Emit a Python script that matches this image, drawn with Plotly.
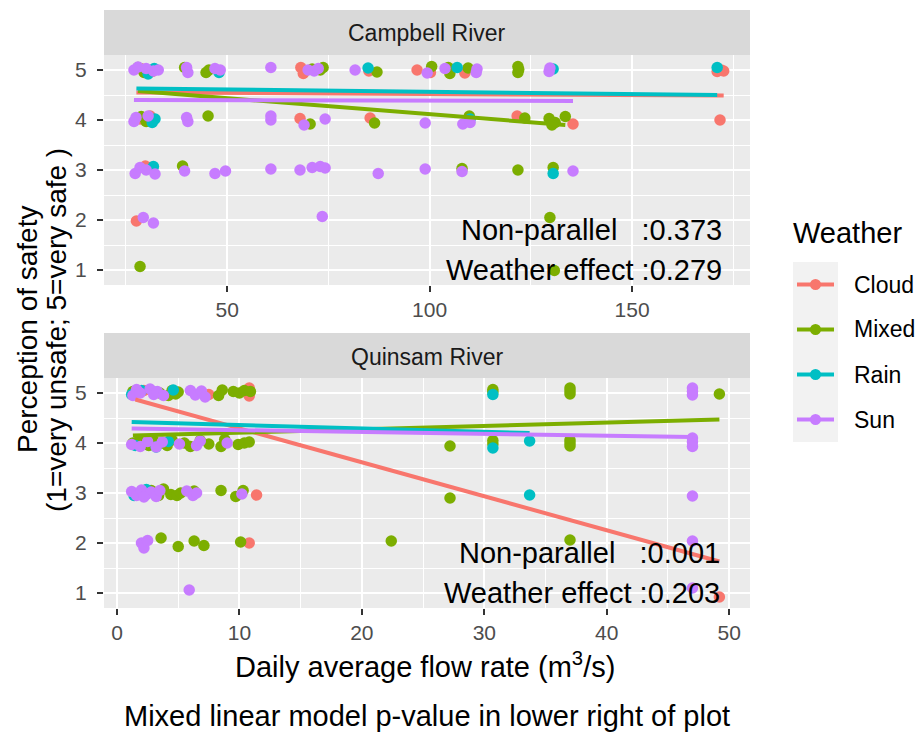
import plotly.graph_objects as go

# ---------------------------------------------------------------------------
# Data: perception of safety (1-5, jittered) vs daily average flow rate
# ---------------------------------------------------------------------------
weather = ["Cloud", "Mixed", "Rain", "Sun"]
weather_colors = ["#F8766D", "#7CAE00", "#00BFC4", "#C77CFF"]

# Campbell River
campbell_cloud_x = [29.0, 31.5, 68.2, 68.8, 85.0, 96.9, 100.2, 108.7, 171.0, 172.0, 172.6,
                    28.5, 31.0, 68.0, 85.3, 121.6, 135.4, 171.7, 31.0, 29.8, 27.6]
campbell_cloud_y = [5.02, 4.97, 5.05, 4.93, 4.98, 5.00, 4.95, 4.94, 4.97, 5.00, 4.98,
                    4.02, 4.08, 4.03, 4.04, 4.08, 3.92, 4.00, 3.05, 3.08, 1.98]

campbell_mixed_x = [28.0, 29.5, 39.5, 44.8, 45.5, 71.0, 73.0, 73.7, 87.0, 100.5, 104.6, 105.0,
                    109.5, 121.8, 121.8, 122.0, 28.8, 30.0, 45.3, 70.5, 86.4, 109.8, 123.5,
                    129.5, 131.0, 133.5, 130.2, 39.0, 108.0, 121.8, 130.5, 129.7, 28.5, 130.8]
campbell_mixed_y = [5.05, 4.95, 5.05, 4.95, 5.00, 5.02, 5.00, 5.05, 4.96, 5.07, 5.05, 4.93,
                    5.04, 5.07, 4.95, 5.01, 4.07, 3.97, 4.08, 3.92, 3.94, 4.08, 4.04,
                    4.03, 3.95, 4.07, 3.90, 3.08, 3.03, 3.00, 3.05, 2.05, 1.07, 0.99]

campbell_rain_x = [30.5, 32.0, 48.0, 84.8, 106.8, 130.5, 171.0, 31.5, 32.2, 110.0, 31.8, 130.5]
campbell_rain_y = [4.92, 5.03, 4.95, 5.04, 5.05, 5.02, 5.05, 3.95, 4.02, 4.02, 3.07, 2.93]

campbell_sun_x = [27.0, 28.0, 30.0, 31.8, 33.0, 40.3, 40.0, 47.0, 48.3, 60.8, 70.0, 71.5, 72.5,
                  81.6, 99.4, 103.8, 111.7, 111.5, 129.7, 129.5,
                  27.0, 27.5, 30.5, 40.3, 40.0, 60.8, 60.8, 69.0, 74.2, 98.9, 108.2, 110.0,
                  27.3, 28.5, 30.0, 32.2, 39.5, 47.0, 49.6, 60.8, 68.0, 71.0, 73.0, 74.2,
                  87.3, 98.9, 108.0, 135.4, 29.3, 31.8, 73.5]
campbell_sun_y = [5.00, 5.06, 5.03, 4.98, 5.00, 4.95, 5.05, 5.03, 5.00, 5.05, 5.00, 4.98, 5.03,
                  5.00, 4.94, 5.03, 5.02, 4.95, 5.04, 4.97,
                  3.97, 4.05, 4.08, 3.97, 4.05, 4.08, 4.00, 3.90, 4.02, 3.94, 3.92, 3.95,
                  2.93, 3.05, 3.00, 2.92, 2.98, 2.93, 2.98, 3.02, 3.00, 3.05, 3.07, 3.04,
                  2.93, 3.02, 2.97, 2.98, 2.05, 1.94, 2.07]

# Quinsam River
quinsam_cloud_x = [2.2, 7.5, 10.8, 10.8, 11.4, 10.8, 49.2]
quinsam_cloud_y = [5.05, 4.97, 5.10, 4.94, 2.96, 2.00, 0.92]

quinsam_mixed_x = [1.3, 3.5, 4.2, 4.5, 4.8, 5.0, 8.3, 8.6, 9.5, 10.0, 10.4, 10.9, 30.7, 30.7,
                   37.0, 37.0, 37.0, 49.2,
                   1.3, 1.8, 2.6, 3.0, 3.6, 4.1, 4.5, 5.5, 6.0, 6.8, 7.5, 8.5, 8.8, 9.9, 10.4,
                   10.8, 27.2, 30.7, 30.7, 37.0, 37.0, 37.0,
                   2.8, 3.4, 3.8, 4.4, 4.9, 5.2, 6.3, 8.5, 9.7, 10.3, 27.2,
                   3.6, 5.0, 6.3, 7.1, 10.1, 22.4, 37.0]
quinsam_mixed_y = [5.03, 5.00, 4.95, 5.05, 4.98, 5.02, 4.95, 5.06, 5.03, 5.00, 5.05, 5.03, 5.07, 5.02,
                   5.10, 5.04, 4.98, 4.98,
                   4.00, 4.05, 3.95, 4.05, 4.00, 3.95, 4.06, 4.00, 3.93, 4.05, 3.98, 3.93, 4.07, 3.97, 4.00,
                   4.02, 3.94, 3.98, 4.05, 4.06, 3.94, 4.00,
                   3.05, 2.95, 3.08, 2.97, 2.95, 3.00, 3.04, 3.05, 2.93, 3.05, 2.90,
                   2.10, 1.93, 2.04, 1.95, 2.02, 2.04, 2.06]

quinsam_rain_x = [1.2, 2.0, 3.0, 4.6, 30.7, 1.5, 3.2, 4.2, 30.7, 33.7, 1.4, 2.4, 33.7]
quinsam_rain_y = [4.97, 5.05, 5.02, 5.06, 4.97, 3.95, 3.92, 4.03, 3.90, 4.04, 2.95, 3.07, 2.96]

quinsam_sun_x = [1.3, 1.6, 1.9, 2.7, 3.0, 3.3, 3.8, 6.0, 6.4, 6.9, 7.2, 47.0, 47.0, 47.0,
                 1.2, 1.9, 2.5, 3.2, 3.7, 5.1, 6.5, 6.8, 9.0, 47.0, 47.0, 47.0,
                 1.2, 1.6, 2.0, 2.4, 2.8, 3.2, 3.5, 2.2, 5.7, 6.2, 6.5, 10.2, 47.0,
                 2.0, 2.2, 2.5, 47.0, 5.9, 47.0]
quinsam_sun_y = [4.95, 5.07, 5.00, 5.08, 4.97, 5.03, 4.95, 5.05, 4.96, 5.04, 4.92, 5.10, 5.03, 4.96,
                 3.97, 3.93, 4.03, 3.92, 4.02, 3.98, 3.95, 4.04, 4.00, 4.10, 4.02, 3.93,
                 3.03, 2.95, 3.06, 2.97, 3.02, 2.93, 3.05, 2.92, 3.04, 2.95, 3.00, 2.98, 2.94,
                 2.00, 1.90, 2.05, 2.04, 1.06, 1.10]

# Fitted linear trends (end points of each weather group's fit)
campbell_fit_x = [[27.6, 172.6], [28.0, 133.5], [27.6, 171.0], [27.0, 135.4]]
campbell_fit_y = [[4.55, 4.49], [4.58, 3.90], [4.63, 4.50], [4.40, 4.38]]
quinsam_fit_x = [[1.5, 49.2], [1.3, 49.2], [1.2, 33.7], [1.2, 47.0]]
quinsam_fit_y = [[4.87, 1.63], [4.15, 4.47], [4.42, 4.20], [4.29, 4.12]]

# Mixed linear model p-values
campbell_pvals = ["0.373", "0.279"]
quinsam_pvals = ["0.001", "0.203"]

panel_titles = ["Campbell River", "Quinsam River"]

# ---------------------------------------------------------------------------
W, H = 915, 734
FONT = "Liberation Sans, Arial, Helvetica, sans-serif"
PANEL_BG = "#EBEBEB"
STRIP_BG = "#D9D9D9"
KEY_BG = "#F2F2F2"

def px_x(p):
    return p / W

def px_y(p):
    return 1 - p / H

panel_left, panel_right = 104, 750
top_panel = (55, 285)      # pixel rows of the Campbell panel
bot_panel = (378, 608)     # pixel rows of the Quinsam panel
strip_h = 45

fig = go.Figure()

campbell_pts = [(campbell_cloud_x, campbell_cloud_y), (campbell_mixed_x, campbell_mixed_y),
                (campbell_rain_x, campbell_rain_y), (campbell_sun_x, campbell_sun_y)]
quinsam_pts = [(quinsam_cloud_x, quinsam_cloud_y), (quinsam_mixed_x, quinsam_mixed_y),
               (quinsam_rain_x, quinsam_rain_y), (quinsam_sun_x, quinsam_sun_y)]

for pts, fx, fy, xa, ya in [(campbell_pts, campbell_fit_x, campbell_fit_y, "x", "y"),
                            (quinsam_pts, quinsam_fit_x, quinsam_fit_y, "x2", "y2")]:
    for (xs, ys), name, col in zip(pts, weather, weather_colors):
        fig.add_trace(go.Scatter(x=xs, y=ys, mode="markers", name=name, showlegend=False,
                                 marker=dict(color=col, size=11.5, line=dict(width=0)),
                                 xaxis=xa, yaxis=ya))
    for lx, ly, name, col in zip(fx, fy, weather, weather_colors):
        fig.add_trace(go.Scatter(x=lx, y=ly, mode="lines", name=name, showlegend=False,
                                 line=dict(color=col, width=4),
                                 xaxis=xa, yaxis=ya))

dom_x = [px_x(panel_left), px_x(panel_right)]
common_axis = dict(showline=False, zeroline=False, ticks="outside", ticklen=6, tickwidth=2,
                   tickcolor="#333333", gridcolor="white", gridwidth=2,
                   tickfont=dict(family=FONT, size=21, color="#4D4D4D"))
minor_grid = dict(showgrid=True, gridcolor="white", gridwidth=1, ticks="")

fig.update_layout(
    xaxis=dict(domain=dom_x, anchor="y", range=[19.6, 179.1], tick0=0, dtick=50,
               minor=dict(dtick=25, **minor_grid), **common_axis),
    yaxis=dict(domain=[px_y(top_panel[1]), px_y(top_panel[0])], anchor="x", range=[0.7, 5.3],
               dtick=1, minor=dict(dtick=0.5, **minor_grid), ticklabelstandoff=6, **common_axis),
    xaxis2=dict(domain=dom_x, anchor="y2", range=[-1.06, 51.7], tick0=0, dtick=10,
                minor=dict(dtick=5, **minor_grid), **common_axis),
    yaxis2=dict(domain=[px_y(bot_panel[1]), px_y(bot_panel[0])], anchor="x2", range=[0.7, 5.3],
                dtick=1, minor=dict(dtick=0.5, **minor_grid), ticklabelstandoff=6, **common_axis),
    plot_bgcolor=PANEL_BG,
    paper_bgcolor="white",
    width=W, height=H,
    margin=dict(l=0, r=0, t=0, b=0),
    showlegend=False,
    font=dict(family=FONT, color="black"),
)

shapes = []
annotations = []

# Facet strips
for (top, _), title in zip([top_panel, bot_panel], panel_titles):
    shapes.append(dict(type="rect", xref="paper", yref="paper",
                       x0=px_x(panel_left), x1=px_x(panel_right),
                       y0=px_y(top), y1=px_y(top - strip_h),
                       fillcolor=STRIP_BG, line=dict(width=0), layer="below"))
    annotations.append(dict(text=title, xref="paper", yref="paper",
                            x=px_x((panel_left + panel_right) / 2), y=px_y(top - strip_h / 2 + 1),
                            xanchor="center", yanchor="middle", showarrow=False,
                            font=dict(family=FONT, size=23, color="#1A1A1A")))

# p-value labels in lower right of each panel
NB = "\u00a0"
for pv, xmax, xa, ya in [(campbell_pvals, 172.6, "x", "y"), (quinsam_pvals, 49.4, "x2", "y2")]:
    labels = ["Non-parallel" + NB * 3 + ":" + pv[0], "Weather" + NB + "effect" + NB + ":" + pv[1]]
    for lab, yv in zip(labels, [1.8, 1.0]):
        annotations.append(dict(text=lab, xref=xa, yref=ya, x=xmax, y=yv,
                                xanchor="right", yanchor="middle", showarrow=False,
                                font=dict(family=FONT, size=29, color="black")))

# Axis titles and caption
annotations.append(dict(text="Perception of safety", xref="paper", yref="paper",
                        x=px_x(27), y=px_y(330), xanchor="center", yanchor="middle",
                        textangle=-90, showarrow=False, font=dict(family=FONT, size=28)))
annotations.append(dict(text="(1=very unsafe; 5=very safe )", xref="paper", yref="paper",
                        x=px_x(56), y=px_y(330), xanchor="center", yanchor="middle",
                        textangle=-90, showarrow=False, font=dict(family=FONT, size=28)))
annotations.append(dict(text="Daily average flow rate (m<sup>3</sup>/s)", xref="paper", yref="paper",
                        x=px_x(425), y=px_y(665), xanchor="center", yanchor="middle",
                        showarrow=False, font=dict(family=FONT, size=29)))
annotations.append(dict(text="Mixed linear model p-value in lower right of plot",
                        xref="paper", yref="paper", x=px_x(427), y=px_y(716),
                        xanchor="center", yanchor="middle", showarrow=False,
                        font=dict(family=FONT, size=29)))

# Legend
annotations.append(dict(text="Weather", xref="paper", yref="paper", x=px_x(791), y=px_y(233),
                        xanchor="left", yanchor="middle", showarrow=False,
                        font=dict(family=FONT, size=29)))
key_top, key_size = 262, 45
key_left = 793
for i, (name, col) in enumerate(zip(weather, weather_colors)):
    y0 = key_top + i * key_size
    yc = y0 + key_size / 2
    shapes.append(dict(type="rect", xref="paper", yref="paper",
                       x0=px_x(key_left), x1=px_x(key_left + key_size),
                       y0=px_y(y0 + key_size), y1=px_y(y0),
                       fillcolor=KEY_BG, line=dict(width=0)))
    shapes.append(dict(type="line", xref="paper", yref="paper",
                       x0=px_x(key_left + 4), x1=px_x(key_left + key_size - 4),
                       y0=px_y(yc), y1=px_y(yc), line=dict(color=col, width=4)))
    shapes.append(dict(type="circle", xref="paper", yref="paper",
                       x0=px_x(key_left + key_size / 2 - 5.5), x1=px_x(key_left + key_size / 2 + 5.5),
                       y0=px_y(yc + 5.5), y1=px_y(yc - 5.5),
                       fillcolor=col, line=dict(width=0)))
    annotations.append(dict(text=name, xref="paper", yref="paper",
                            x=px_x(852), y=px_y(yc), xanchor="left", yanchor="middle",
                            showarrow=False, font=dict(family=FONT, size=23, color="black")))

fig.update_layout(shapes=shapes, annotations=annotations)
fig.write_html("out.html")
